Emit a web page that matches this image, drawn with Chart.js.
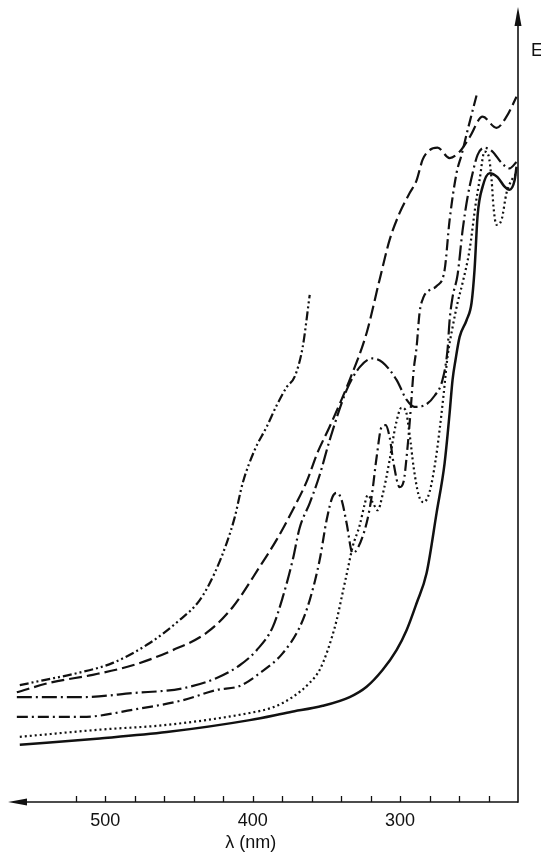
<!DOCTYPE html>
<html>
<head>
<meta charset="utf-8">
<script src="https://cdn.jsdelivr.net/npm/chart.js@4.4.1/dist/chart.umd.min.js"></script>
<style>
  html, body { margin: 0; padding: 0; background: #ffffff; }
  #wrap { width: 541px; height: 854px; }
</style>
</head>
<body>
<div id="wrap"><canvas id="spectra" width="541" height="854"></canvas></div>
<script>
// Axis ranges (wavelength runs right-to-left, E in arbitrary units)
const nmLow = 220, nmHigh = 566;
const eTop = 100;
const nmStep = 20;
const tickMarkRange = [240, 520];
const xTickLabels = [500, 400, 300];
const xTitle = 'λ (nm)';
const yTitle = 'E';

// Solid curve
const solidNm = [558, 503.7, 458.3, 402, 374.9, 352.5, 334.2, 322.7, 311.9, 302.4, 295.6, 288.8, 282, 275.2, 269.8, 266.4, 264.4, 262.4, 259.6, 254.9, 251.5, 249.5, 247.4, 244, 239.3, 233.9, 229.1, 225.8, 222.3, 221];
const solidE  = [7.2, 8.0, 8.8, 10.3, 11.3, 12.1, 13.2, 14.5, 16.6, 19.1, 21.6, 25.0, 28.8, 36.4, 42.6, 48.9, 53.1, 55.6, 58.5, 60.6, 62.8, 66.9, 73.8, 77.4, 79.1, 78.6, 77.4, 77.0, 78.2, 79.9];

// Dotted curve
const dottedNm = [558, 503.7, 458.3, 402, 386.4, 372.9, 361.3, 354.6, 349.1, 343, 339, 335.6, 332.2, 327.4, 324.1, 322, 318.6, 315.2, 311.9, 307.1, 303, 299, 296.3, 293.5, 290.8, 287.4, 284.1, 280, 275.9, 273.2, 270.5, 267.8, 264.4, 261, 257.6, 252.9, 248.8, 246.1, 242.7, 240, 237.9, 236.6, 234.6, 231.2, 227.8, 224.4, 221];
const dottedE  = [8.2, 9.1, 9.7, 11.2, 11.9, 13.2, 15.0, 16.6, 19.1, 22.9, 26.3, 29.2, 32.1, 34.8, 37.4, 38.6, 37.7, 36.7, 38.6, 43.0, 47.4, 49.6, 49.3, 46.2, 42.1, 38.6, 37.7, 39.0, 43.0, 46.8, 51.2, 56.0, 59.7, 62.8, 65.3, 69.4, 75.1, 78.2, 81.8, 81.3, 78.2, 74.8, 72.6, 73.2, 76.6, 78.2, 79.1];

// Dash-dot curve
const dashDotNm = [560, 515.3, 481.4, 447.5, 424.4, 408.8, 395.2, 379.7, 368.1, 361.3, 354.6, 349.8, 345.8, 343, 339.7, 336.3, 332.2, 328.8, 322.7, 319.3, 315.9, 312.5, 309.8, 307.1, 304.4, 300.3, 297.6, 294.9, 293.5, 292.2, 290.8, 288.8, 286.8, 284.1, 280, 275.2, 269.8, 266.4, 261.7, 258.3, 254.2, 248.1];
const dashDotE  = [10.7, 10.7, 11.6, 12.8, 14.1, 14.6, 16.2, 18.7, 22.0, 25.4, 30.4, 35.5, 38.4, 38.9, 38.0, 35.1, 31.3, 31.9, 35.1, 38.4, 43.4, 47.2, 47.4, 45.9, 42.6, 39.6, 40.3, 44.7, 47.7, 50.9, 54.3, 57.2, 61.5, 63.5, 64.4, 64.9, 66.9, 73.2, 79.1, 81.4, 84.5, 88.9];

// Long-dash-dot curve
const longDashDotNm = [560, 515.3, 481.4, 447.5, 424.4, 408.8, 397.3, 386.4, 379.7, 372.9, 368.1, 361.3, 354.6, 347.8, 336.3, 327.4, 318.6, 311.9, 302.4, 295.6, 290.2, 283.4, 276.6, 271.2, 267.8, 266.4, 264.4, 261, 257.6, 254.2, 250.8, 247.4, 242.7, 237.3, 231.2, 225.8, 221];
const longDashDotE  = [13.2, 13.2, 13.7, 14.3, 15.6, 17.2, 19.1, 22.0, 25.7, 30.4, 34.5, 37.6, 41.1, 45.5, 51.8, 54.7, 55.8, 55.3, 53.1, 50.6, 49.7, 49.9, 51.1, 53.1, 56.9, 60.6, 63.5, 66.3, 71.9, 76.1, 79.1, 81.4, 82.3, 81.8, 80.4, 79.7, 80.5];

// Dashed curve
const dashedNm = [560, 537.6, 508.5, 481.4, 454.2, 431.2, 413.6, 395.2, 383.7, 372.9, 363.4, 355.9, 347.8, 334.2, 322.7, 313.9, 307.1, 300.3, 293.5, 288.8, 284.7, 280, 274.6, 266.4, 259.6, 252.9, 244, 234.6, 227.8, 221];
const dashedE  = [13.8, 15.0, 16.0, 17.2, 19.1, 21.3, 24.5, 29.6, 33.0, 36.7, 40.3, 44.0, 47.2, 53.1, 59.0, 65.7, 70.7, 74.1, 76.6, 78.2, 80.8, 82.0, 82.3, 81.0, 81.8, 83.6, 86.2, 84.8, 86.2, 88.7];

// Dash-dot-dot curve (ends near 360 nm)
const dashDotDotNm = [558, 542.4, 519.3, 494.9, 469.8, 449.5, 435.9, 425.8, 417.6, 412.2, 406.8, 398.6, 390.5, 383.7, 376.9, 371.5, 366.1, 361.3];
const dashDotDotE  = [14.7, 15.3, 16.2, 17.5, 20.0, 22.9, 25.4, 28.8, 32.6, 35.8, 40.1, 44.3, 47.2, 49.9, 52.2, 53.5, 57.2, 63.8];

const ink = '#111111';
const pairs = (xs, ys) => xs.map((v, i) => ({ x: v, y: ys[i] }));

function curve(xs, ys, dash, width) {
  return {
    data: pairs(xs, ys),
    showLine: true,
    borderColor: ink,
    borderWidth: width,
    borderDash: dash,
    borderCapStyle: 'butt',
    borderJoinStyle: 'round',
    pointRadius: 0,
    pointHoverRadius: 0,
    tension: 0.4,
    cubicInterpolationMode: 'monotone',
    fill: false
  };
}

// Axes with arrowheads, inward tick marks and the axis names
const arrowAxes = {
  id: 'arrowAxes',
  afterDatasetsDraw(chart) {
    const { ctx, scales: { x, y } } = chart;
    const xr = x.getPixelForValue(nmLow);
    const xl = x.getPixelForValue(nmHigh);
    const y0 = y.getPixelForValue(0);
    const yt = y.getPixelForValue(eTop);
    ctx.save();
    ctx.strokeStyle = ink;
    ctx.fillStyle = ink;
    ctx.lineWidth = 1.6;
    // horizontal axis
    ctx.beginPath();
    ctx.moveTo(xr, y0);
    ctx.lineTo(xl + 10, y0);
    ctx.stroke();
    ctx.beginPath();
    ctx.moveTo(xl, y0);
    ctx.lineTo(xl + 19, y0 - 3.5);
    ctx.lineTo(xl + 19, y0 + 3.5);
    ctx.closePath();
    ctx.fill();
    // vertical axis
    ctx.beginPath();
    ctx.moveTo(xr, y0 + 0.8);
    ctx.lineTo(xr, yt + 10);
    ctx.stroke();
    ctx.beginPath();
    ctx.moveTo(xr, yt);
    ctx.lineTo(xr - 3.5, yt + 19);
    ctx.lineTo(xr + 3.5, yt + 19);
    ctx.closePath();
    ctx.fill();
    // tick marks pointing up into the plot
    ctx.lineWidth = 1.3;
    x.ticks.forEach(t => {
      if (t.value >= tickMarkRange[0] && t.value <= tickMarkRange[1]) {
        const px = Math.round(x.getPixelForValue(t.value)) + 0.5;
        ctx.beginPath();
        ctx.moveTo(px, y0);
        ctx.lineTo(px, y0 - 6);
        ctx.stroke();
      }
    });
    // axis names
    ctx.font = '18px "Liberation Sans", Arial, sans-serif';
    ctx.textBaseline = 'middle';
    ctx.textAlign = 'left';
    ctx.fillText(yTitle, xr + 13, 51);
    ctx.textAlign = 'center';
    ctx.fillText(xTitle, x.getPixelForValue(400) - 2, 843);
    ctx.restore();
  }
};

new Chart(document.getElementById('spectra'), {
  type: 'scatter',
  data: {
    datasets: [
      curve(solidNm, solidE, [], 2.5),
      curve(dottedNm, dottedE, [2, 3], 2.2),
      curve(dashDotNm, dashDotE, [11, 4, 2, 4], 2.2),
      curve(longDashDotNm, longDashDotE, [15, 4, 2, 4], 2.2),
      curve(dashedNm, dashedE, [13, 5], 2.2),
      curve(dashDotDotNm, dashDotDotE, [9, 3, 2, 3, 2, 3], 2.2)
    ]
  },
  options: {
    responsive: false,
    animation: false,
    events: [],
    layout: { padding: { left: 8, right: 23, top: 7, bottom: 0 } },
    plugins: { legend: { display: false }, tooltip: { enabled: false } },
    scales: {
      x: {
        type: 'linear',
        reverse: true,
        min: nmLow,
        max: nmHigh,
        grid: { display: false, drawTicks: false },
        border: { display: false },
        afterFit(scale) { scale.height = 52; },
        ticks: {
          stepSize: nmStep,
          includeBounds: false,
          autoSkip: false,
          maxRotation: 0,
          padding: 8,
          color: ink,
          font: { family: '"Liberation Sans", Arial, sans-serif', size: 18 },
          callback: v => (xTickLabels.includes(v) ? String(v) : '')
        }
      },
      y: {
        type: 'linear',
        min: 0,
        max: eTop,
        display: false
      }
    }
  },
  plugins: [arrowAxes]
});
</script>
</body>
</html>
